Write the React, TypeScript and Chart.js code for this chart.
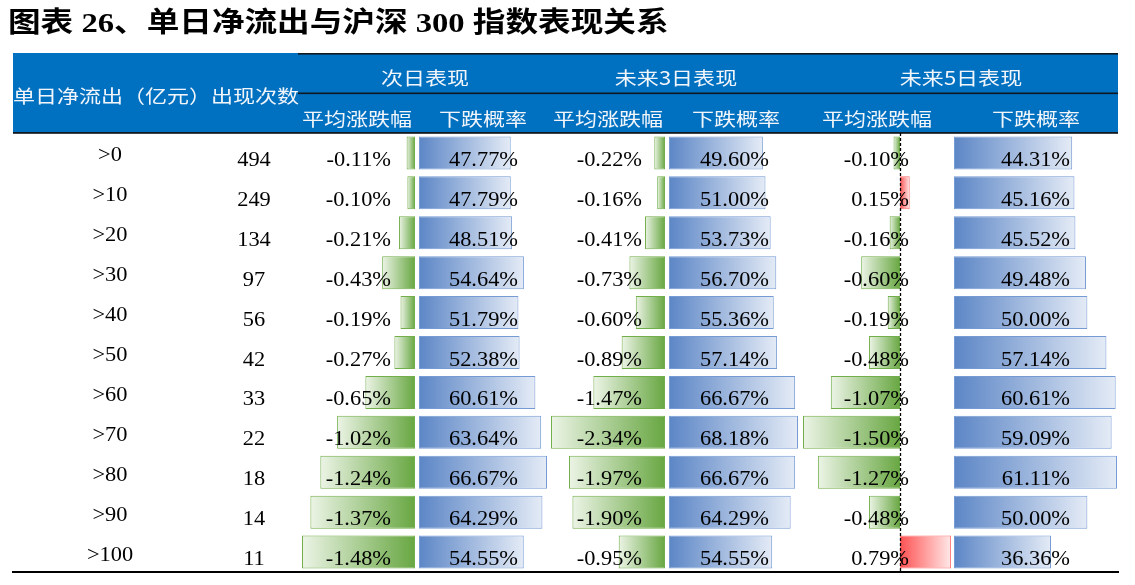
import React, { useEffect, useRef } from 'react';
import { Chart, registerables } from 'chart.js';

Chart.register(...registerables);

// ---------- data ----------
const categories = ['>0', '>10', '>20', '>30', '>40', '>50', '>60', '>70', '>80', '>90', '>100'];
const counts = [494, 249, 134, 97, 56, 42, 33, 22, 18, 14, 11];
const nextDayAvg = [-0.11, -0.1, -0.21, -0.43, -0.19, -0.27, -0.65, -1.02, -1.24, -1.37, -1.48];
const nextDayFall = [47.77, 47.79, 48.51, 54.64, 51.79, 52.38, 60.61, 63.64, 66.67, 64.29, 54.55];
const day3Avg = [-0.22, -0.16, -0.41, -0.73, -0.6, -0.89, -1.47, -2.34, -1.97, -1.9, -0.95];
const day3Fall = [49.6, 51.0, 53.73, 56.7, 55.36, 57.14, 66.67, 68.18, 66.67, 64.29, 54.55];
const day5Avg = [-0.1, 0.15, -0.16, -0.6, -0.19, -0.48, -1.07, -1.5, -1.27, -0.48, 0.79];
const day5Fall = [44.31, 45.16, 45.52, 49.48, 50.0, 57.14, 60.61, 59.09, 61.11, 50.0, 36.36];

const titleText = '图表 26、单日净流出与沪深 300 指数表现关系';
const rowHeaderText = '单日净流出（亿元）出现次数';
const groupHeaders = ['次日表现', '未来3日表现', '未来5日表现'];
const subHeaders = ['平均涨跌幅', '下跌概率', '平均涨跌幅', '下跌概率', '平均涨跌幅', '下跌概率'];

// ---------- layout / style ----------
const W = 1135;
const H = 585;
const SX = 1.12; // horizontal glyph stretch of the source rendering
const HEAD_SX = 1.19;
const NUM_FONT = "20px 'Liberation Serif', 'Times New Roman', serif";
const HEAD_FONT = "18.5px 'Noto Sans CJK SC', sans-serif";
const TITLE_FONT = "bold 28px 'Liberation Serif', 'Noto Sans CJK SC', serif";

// stacked x axes, left to right (stackWeight = pixel width)
const axisStrip = [
  { id: 'xs0', w: 290 },
  { id: 'xa1', w: 113, min: Math.min(...nextDayAvg), max: 0 },
  { id: 'xs1', w: 4 },
  { id: 'xp1', w: 128, min: 0, max: Math.max(...nextDayFall) },
  { id: 'xs2', w: 4 },
  { id: 'xa2', w: 114, min: Math.min(...day3Avg), max: 0 },
  { id: 'xs3', w: 4 },
  { id: 'xp2', w: 129, min: 0, max: Math.max(...day3Fall) },
  { id: 'xs4', w: 5 },
  { id: 'xa3', w: 151, min: Math.min(...day5Avg), max: 0.835 },
  { id: 'xp3', w: 163, min: 0, max: Math.max(...day5Fall) },
  { id: 'xs5', w: 1 },
];

const barSets = [
  { data: nextDayAvg, axis: 'xa1', kind: 'avg', right: 391 },
  { data: nextDayFall, axis: 'xp1', kind: 'fall', right: 518 },
  { data: day3Avg, axis: 'xa2', kind: 'avg', right: 642 },
  { data: day3Fall, axis: 'xp2', kind: 'fall', right: 769 },
  { data: day5Avg, axis: 'xa3', kind: 'avg', right: 909 },
  { data: day5Fall, axis: 'xp3', kind: 'fall', right: 1070 },
];

function drawText(
  ctx: CanvasRenderingContext2D,
  s: string,
  x: number,
  y: number,
  align: CanvasTextAlign,
  font: string,
  sx: number,
  color: string,
  baseline: CanvasTextBaseline = 'alphabetic'
) {
  ctx.save();
  ctx.translate(x, y);
  ctx.scale(sx, 1);
  ctx.font = font;
  ctx.fillStyle = color;
  ctx.textAlign = align;
  ctx.textBaseline = baseline;
  ctx.fillText(s, 0, 0);
  ctx.restore();
}

function barFill(c: any, axis: string, kind: string) {
  const chart = c.chart;
  const scale = chart.scales[axis];
  const v = c.raw as number;
  if (!scale || !chart.chartArea || typeof v !== 'number') return '#6a8fcc';
  const x0 = scale.getPixelForValue(0);
  const x1 = scale.getPixelForValue(v);
  const g = chart.ctx.createLinearGradient(x0, 0, x1 === x0 ? x0 + 1 : x1, 0);
  if (kind === 'fall') {
    g.addColorStop(0, 'rgb(92,134,198)');
    g.addColorStop(1, 'rgb(228,235,246)');
  } else if (v < 0) {
    g.addColorStop(0, 'rgb(104,167,66)');
    g.addColorStop(1, 'rgb(236,244,230)');
  } else {
    g.addColorStop(0, 'rgb(255,82,82)');
    g.addColorStop(1, 'rgb(255,232,232)');
  }
  return g;
}

function barEdge(c: any, kind: string) {
  const v = c.raw as number;
  if (kind === 'fall') return 'rgb(118,155,212)';
  return v < 0 ? 'rgb(114,174,74)' : 'rgb(255,110,110)';
}

const tablePlugin = {
  id: 'tableDecor',
  beforeDraw(chart: any) {
    const ctx: CanvasRenderingContext2D = chart.ctx;
    ctx.save();
    ctx.fillStyle = '#ffffff';
    ctx.fillRect(0, 0, chart.width, chart.height);

    drawText(ctx, titleText, 8, 32, 'left', TITLE_FONT, 1.165, '#000');

    // header band
    ctx.fillStyle = '#0070C0';
    ctx.fillRect(13, 53, 1105, 80);
    ctx.fillStyle = '#101820';
    ctx.fillRect(298, 53, 820, 1.6);
    ctx.fillRect(298, 92.5, 820, 1.6);
    ctx.fillRect(13, 132, 1105, 1.8);

    const headColor = '#F2F6FB';
    drawText(ctx, rowHeaderText, 156, 96, 'center', HEAD_FONT, HEAD_SX, headColor, 'middle');
    const groupCenters = [425, 676, 961];
    groupHeaders.forEach((t, i) => drawText(ctx, t, groupCenters[i], 77.5, 'center', HEAD_FONT, HEAD_SX, headColor, 'middle'));
    const subCenters = [357, 483, 608, 736, 877, 1036];
    subHeaders.forEach((t, i) => drawText(ctx, t, subCenters[i], 118.5, 'center', HEAD_FONT, HEAD_SX, headColor, 'middle'));
    ctx.restore();
  },
  afterDatasetsDraw(chart: any) {
    const ctx: CanvasRenderingContext2D = chart.ctx;
    const area = chart.chartArea;
    const yScale = chart.scales.y;
    ctx.save();

    // dashed zero axis of the 5-day average column
    const zx = Math.round(chart.scales.xa3.getPixelForValue(0)) + 0.5;
    ctx.strokeStyle = '#000';
    ctx.lineWidth = 1.3;
    ctx.setLineDash([3, 2]);
    ctx.beginPath();
    ctx.moveTo(zx, area.top);
    ctx.lineTo(zx, area.bottom);
    ctx.stroke();
    ctx.setLineDash([]);

    categories.forEach((cat, i) => {
      const cy = yScale.getPixelForValue(i);
      drawText(ctx, cat, 110, cy + 8.5, 'center', NUM_FONT, SX, '#000');
      drawText(ctx, String(counts[i]), 254, cy + 13, 'center', NUM_FONT, SX, '#000');
      barSets.forEach((s) => {
        drawText(ctx, s.data[i].toFixed(2) + '%', s.right, cy + 13, 'right', NUM_FONT, SX, '#000');
      });
    });

    // bottom rule
    ctx.fillStyle = '#000';
    ctx.fillRect(12, 571, 1107, 2);
    ctx.restore();
  },
};

export default function App() {
  const ref = useRef<HTMLCanvasElement | null>(null);

  useEffect(() => {
    if (!ref.current) return;
    const scales: any = {
      y: {
        type: 'category',
        display: false,
        offset: true,
        grid: { display: false },
      },
    };
    axisStrip.forEach((a, i) => {
      scales[a.id] = {
        type: 'linear',
        axis: 'x',
        position: 'bottom',
        display: false,
        stack: 'columns',
        stackWeight: a.w,
        weight: i,
        min: a.min !== undefined ? a.min : 0,
        max: a.max !== undefined ? a.max : 1,
        grid: { display: false },
      };
    });

    const chart = new Chart(ref.current, {
      type: 'bar',
      data: {
        labels: categories,
        datasets: barSets.map((s) => ({
          data: s.data,
          xAxisID: s.axis,
          yAxisID: 'y',
          grouped: false,
          barThickness: 33,
          borderWidth: 1,
          borderSkipped: false,
          inflateAmount: 0,
          backgroundColor: (c: any) => barFill(c, s.axis, s.kind),
          borderColor: (c: any) => barEdge(c, s.kind),
        })) as any,
      },
      options: {
        indexAxis: 'y',
        responsive: false,
        animation: false,
        devicePixelRatio: 1,
        layout: { padding: { left: 12, right: W - 1118, top: 133, bottom: H - 572 } },
        plugins: {
          legend: { display: false },
          tooltip: { enabled: false },
        },
        scales,
      } as any,
      plugins: [tablePlugin],
    });
    return () => chart.destroy();
  }, []);

  return (
    <div style={{ position: 'fixed', left: 0, top: 0, width: W, height: H, background: '#fff' }}>
      <canvas ref={ref} width={W} height={H} style={{ display: 'block', width: W, height: H }} />
    </div>
  );
}
